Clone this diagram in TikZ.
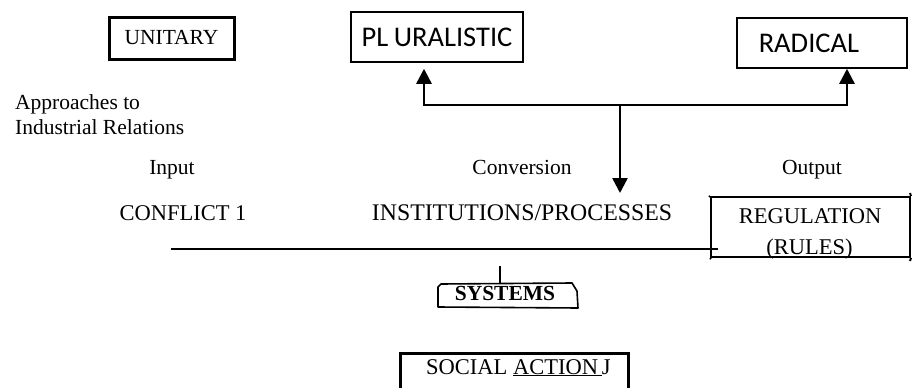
\documentclass[tikz,border=0pt]{standalone}
\usepackage{fontspec}
\setmainfont{Liberation Serif}
\newfontfamily\calfont{Carlito}
\usetikzlibrary{arrows.meta}
\begin{document}
\begin{tikzpicture}[x=1pt,y=-1pt,
  txt/.style={inner sep=0pt, anchor=base, font=\fontsize{21.5}{25}\selectfont},
  captxt/.style={inner sep=0pt, anchor=base, font=\fontsize{22.5}{26}\selectfont},
  calbox/.style={draw, line width=1.5pt, inner sep=0pt, font=\calfont\fontsize{28.5}{32}\selectfont},
  arr/.style={line width=2.5pt, -{Triangle[length=15pt,width=15pt]}},
  plainline/.style={line width=2pt},
]
\useasboundingbox[fill=white] (0,0) rectangle (922,388);

% top boxes
\node[draw, line width=3pt, minimum width=125pt, minimum height=42pt, inner sep=0pt,
      font=\fontsize{21.5}{25}\selectfont] (unit) at (171.5,38) {UNITARY};
\node[calbox, minimum width=172pt, minimum height=50pt] (plural) at (437,37) {PL\kern-1pt\ URALISTIC};
\node[calbox, anchor=west, text width=126pt, inner xsep=22pt, align=left, minimum height=50pt] (radical) at (736,43) {RADICAL};

% approaches label
\node[inner sep=0pt, anchor=north west, align=left, font=\fontsize{21.5}{25}\selectfont] (appr) at (15,94)
  {Approaches to\\Industrial Relations};

% arrows
\coordinate (jL) at (424,105);
\coordinate (jM) at (620,105);
\coordinate (jR) at (847,105);
\coordinate (dtip) at (620,193);
\draw[arr] (jM) -- (jL) -- ([yshift=-6pt]plural.south -| jL);
\draw[arr] (jM) -- (jR) -- (radical.south -| jR);
\draw[arr] (jM) -- (dtip);

% row labels
\node[txt] (input) at (172,174) {Input};
\node[txt] (conv) at (522,174) {Conversion};
\node[txt] (output) at (812,174) {Output};

\node[captxt] (conflict) at (183,220) {CONFLICT 1};
\node[captxt, font=\fontsize{23.8}{27}\selectfont] (inst) at (522,220) {INSTITUTIONS/PROCESSES};

% regulation box
\node[draw, line width=2pt, minimum width=199pt, minimum height=60pt, inner sep=0pt] (reg) at (810.5,227) {};
\draw[plainline] (709,197) -- (reg.north west);
\draw[plainline] (reg.north east) -- (910,193);
\draw[plainline] (reg.south east) -- (910,261);
\draw[plainline] (reg.south west) -- (711,259);
\node[captxt] (regt) at (810,223) {REGULATION};
\node[captxt] (rules) at (809.5,254) {(RULES)};

% main horizontal line
\coordinate (lineL) at (171,249);
\coordinate (lineR) at (718,249);
\draw[plainline] (lineL) -- (lineR);

% systems
\coordinate (sysTick) at (500,266);
\node[inner sep=0pt, anchor=base, font=\bfseries\fontsize{21.5}{25}\selectfont] (sys) at (505,300) {SYSTEMS};
\draw[line width=1.6pt, line join=round] (438,307) -- (438,287) -- (441,284) -- (572,283) -- (577,291) -- (578,308) -- cycle;
\draw[line width=1.2pt] (sysTick) -- (500,283);

% social action
\node[inner sep=0pt, anchor=base west, font=\fontsize{22.5}{26}\selectfont] (social) at (426,374)
  {SOCIAL \underline{ACTION\,}J};
\draw[line width=3pt] (400,392) -- (400,353) -- (628,353) -- (628,392);
\end{tikzpicture}
\end{document}
